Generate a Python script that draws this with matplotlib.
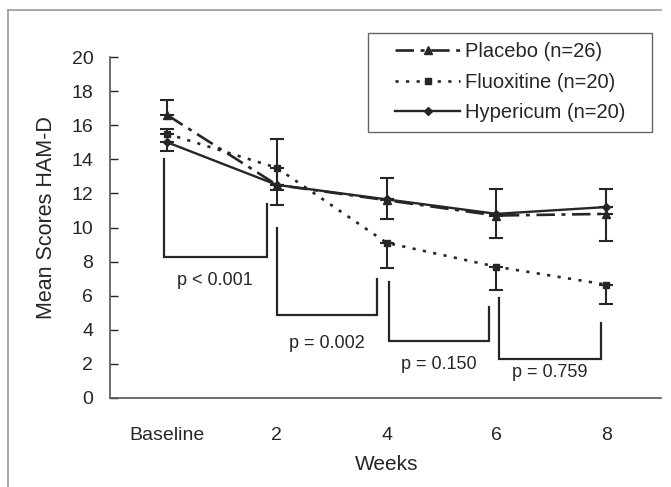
import numpy as np
import matplotlib
matplotlib.use('Agg')
import matplotlib.pyplot as plt
from matplotlib.lines import Line2D
from matplotlib.patches import Rectangle

plt.rcParams['font.family'] = ['Liberation Sans', 'DejaVu Sans']

# Daten
week_labels = ['Baseline', '2', '4', '6', '8']
placebo = [16.6, 12.5, 11.6, 10.7, 10.8]
fluoxitine = [15.5, 13.5, 9.1, 7.7, 6.65]
hypericum = [15.0, 12.5, 11.65, 10.8, 11.2]

# one-sided error bars (upper for placebo, lower for the others)
placebo_err_up = [0.9, 2.7, 1.3, 1.55, 1.45]
fluoxitine_err_up = [0.3, 0.0, 0.0, 0.0, 0.0]
fluoxitine_err_low = [0.0, 1.3, 1.45, 1.35, 1.15]
hypericum_err_low = [0.5, 1.2, 1.15, 1.4, 2.0]

# brackets between visits
bracket_x_left = [-0.03, 1.0, 2.02, 3.02]
bracket_x_right = [0.91, 1.91, 2.93, 3.95]
bracket_y_left = [14.0, 9.97, 6.8, 5.87]
bracket_y_right = [11.4, 6.98, 5.34, 4.4]
bracket_y_bottom = [8.27, 4.87, 3.34, 2.29]
p_labels = ['p < 0.001', 'p = 0.002', 'p = 0.150', 'p = 0.759']
p_label_y = [6.9, 3.2, 1.94, 1.47]

ink = '#262626'
x = np.arange(len(week_labels))

fig = plt.figure(figsize=(6.71, 4.87), dpi=100)
ax = fig.add_axes([110 / 671, 1 - 398 / 487, 551 / 671, 341 / 487])

ek = dict(ecolor=ink, elinewidth=1.5, capsize=5, capthick=1.5)
pl_style = dict(color=ink, lw=1.9, dashes=(7, 2.5, 1.5, 2.5), marker='^', ms=6)
fl_style = dict(color=ink, lw=1.9, linestyle=(0, (1.2, 2.8)), marker='s', ms=5)
hy_style = dict(color=ink, lw=1.7, linestyle='-', marker='D', ms=4.5)

ax.errorbar(x, placebo, yerr=[np.zeros(5), placebo_err_up], **pl_style, **ek)
ax.errorbar(x, fluoxitine, yerr=[fluoxitine_err_low, fluoxitine_err_up], **fl_style, **ek)
ax.errorbar(x, hypericum, yerr=[hypericum_err_low, np.zeros(5)], **hy_style, **ek)

# Klammern mit p-Werten
for i in range(len(p_labels)):
    xl, xr = bracket_x_left[i], bracket_x_right[i]
    ax.plot([xl, xl, xr, xr],
            [bracket_y_left[i], bracket_y_bottom[i], bracket_y_bottom[i], bracket_y_right[i]],
            color=ink, lw=1.6, solid_joinstyle='miter')
    ax.text((xl + xr) / 2, p_label_y[i], p_labels[i], ha='center', va='center',
            fontsize=13, color=ink)

ax.set_xlim(-0.52, 4.5)
ax.set_ylim(0, 20)
ax.set_yticks(np.arange(0, 21, 2))
ax.set_xticks(x)
ax.set_xticklabels(week_labels)
ax.tick_params(axis='y', direction='in', length=6, width=1, pad=12,
               labelsize=14, colors=ink)
ax.tick_params(axis='x', length=0, pad=21, labelsize=14, colors=ink)
for s in ['top', 'right']:
    ax.spines[s].set_visible(False)
for s in ['left', 'bottom']:
    ax.spines[s].set_color('#555555')
    ax.spines[s].set_linewidth(1.2)

ax.set_ylabel('Mean Scores HAM-D', fontsize=15.5, color=ink)
ax.yaxis.set_label_coords(-0.096, 0.53)
ax.set_xlabel('Weeks', fontsize=15, color=ink)
ax.xaxis.set_label_coords(0.503, -0.168)

# Legende ohne eigenen Rahmen, Rahmen separat
handles = [Line2D([], [], **pl_style), Line2D([], [], **fl_style), Line2D([], [], **hy_style)]
leg = fig.legend(handles, ['Placebo (n=26)', 'Fluoxitine (n=20)', 'Hypericum (n=20)'],
                 loc='upper left', bbox_to_anchor=(395 / 671, 1 - 42 / 487),
                 borderaxespad=0, borderpad=0, fontsize=14.5, handlelength=3.25,
                 handletextpad=0.25, labelspacing=0.58, frameon=False)
for t in leg.get_texts():
    t.set_color(ink)
fig.add_artist(Rectangle((368 / 671, 1 - 132 / 487), 284 / 671, 99 / 487,
                         transform=fig.transFigure, fill=False,
                         edgecolor='#666666', lw=1.0))

# Rahmen um das Bild
fig.add_artist(Line2D([8 / 671, 8 / 671], [0, 1 - 10 / 487], color='#999999', lw=1.2))
fig.add_artist(Line2D([8 / 671, 661 / 671], [1 - 10 / 487, 1 - 10 / 487], color='#999999', lw=1.2))

fig.savefig('out.png', dpi=100)
